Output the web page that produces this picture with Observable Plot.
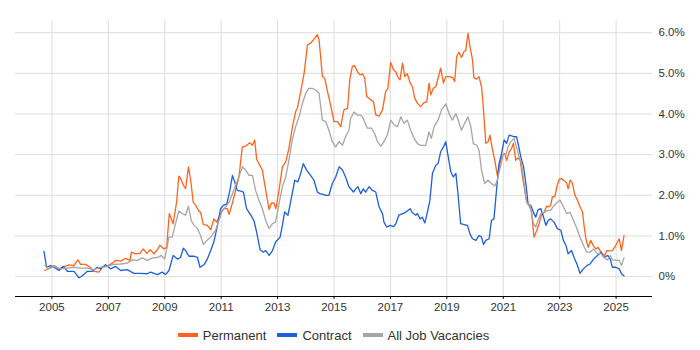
<!DOCTYPE html>
<html><head><meta charset="utf-8">
<script src="https://cdn.jsdelivr.net/npm/d3@7"></script>
<script src="https://cdn.jsdelivr.net/npm/@observablehq/plot@0.6"></script>
<style>
body{margin:0;background:#fff;font-family:"Liberation Sans",Arial,sans-serif;}
#legend{display:flex;justify-content:center;align-items:center;width:637px;margin-left:15px;height:30px;font-size:13px;color:#333}
.item{display:flex;align-items:center;margin:0 5.5px}
.sw{width:20px;height:4px;margin-right:5px}
</style></head><body><div id="chart"></div><div id="legend"></div>
<script>
const seriesNames = ["Permanent", "Contract", "All Job Vacancies"];
const seriesColors = ["#ff631c", "#1d5fd9", "#a6a6a6"];
const xTicks = [2005, 2007, 2009, 2011, 2013, 2015, 2017, 2019, 2021, 2023, 2025];
const yTicks = [0, 1, 2, 3, 4, 5, 6];

const permYear = [2004.75,2005.07,2005.25,2005.60,2005.78,2005.92,2006.02,2006.20,2006.35,2006.49,2006.67,2006.79,2006.96,2007.14,2007.26,2007.44,2007.61,2007.77,2007.82,2007.97,2008.12,2008.24,2008.36,2008.48,2008.62,2008.74,2008.83,2008.97,2009.07,2009.16,2009.30,2009.42,2009.50,2009.56,2009.66,2009.74,2009.84,2009.92,2010.01,2010.10,2010.21,2010.27,2010.37,2010.51,2010.63,2010.74,2010.84,2010.98,2011.10,2011.22,2011.28,2011.40,2011.51,2011.63,2011.75,2011.87,2012.02,2012.11,2012.19,2012.26,2012.46,2012.58,2012.70,2012.78,2012.87,2012.94,2013.05,2013.17,2013.29,2013.40,2013.52,2013.64,2013.70,2013.82,2013.94,2014.06,2014.17,2014.29,2014.41,2014.47,2014.59,2014.67,2014.77,2014.88,2015.00,2015.12,2015.24,2015.35,2015.48,2015.56,2015.65,2015.73,2015.83,2015.92,2016.01,2016.09,2016.16,2016.28,2016.40,2016.48,2016.60,2016.72,2016.83,2016.91,2017.01,2017.11,2017.19,2017.27,2017.34,2017.43,2017.51,2017.60,2017.70,2017.78,2017.86,2017.96,2018.07,2018.19,2018.29,2018.37,2018.43,2018.52,2018.61,2018.69,2018.78,2018.88,2018.96,2019.08,2019.20,2019.28,2019.35,2019.43,2019.52,2019.61,2019.67,2019.75,2019.82,2019.91,2019.96,2020.06,2020.14,2020.23,2020.30,2020.38,2020.46,2020.53,2020.62,2020.70,2020.79,2020.89,2020.97,2021.05,2021.12,2021.21,2021.29,2021.36,2021.44,2021.52,2021.60,2021.68,2021.74,2021.83,2021.91,2022.00,2022.09,2022.19,2022.27,2022.35,2022.45,2022.54,2022.62,2022.68,2022.74,2022.83,2022.90,2022.98,2023.06,2023.16,2023.25,2023.30,2023.37,2023.45,2023.54,2023.63,2023.72,2023.81,2023.87,2023.93,2024.01,2024.10,2024.20,2024.28,2024.36,2024.43,2024.52,2024.60,2024.67,2024.75,2024.87,2024.99,2025.11,2025.19,2025.28];
const permValue = [0.15,0.27,0.19,0.29,0.27,0.41,0.30,0.30,0.23,0.13,0.11,0.23,0.25,0.33,0.40,0.38,0.45,0.40,0.60,0.56,0.57,0.68,0.57,0.66,0.56,0.66,0.77,0.68,0.72,1.55,1.30,1.83,2.47,2.42,2.25,2.16,2.70,2.37,1.83,1.75,1.61,1.58,1.28,1.26,1.15,1.42,1.34,1.55,1.67,1.67,1.53,1.81,2.12,2.45,3.19,3.21,3.29,3.23,3.36,2.88,2.62,2.12,1.65,1.81,1.81,1.67,2.12,2.70,2.82,3.15,3.65,4.06,4.14,4.55,5.00,5.70,5.74,5.84,5.95,5.83,4.92,4.88,4.55,4.22,3.81,3.81,3.69,4.10,4.14,4.84,5.17,5.19,5.04,4.96,4.99,4.88,4.43,4.36,4.30,3.98,3.95,4.10,4.55,4.63,5.27,5.09,5.04,4.90,4.84,5.25,4.92,4.99,4.76,4.67,4.39,4.26,4.18,4.28,4.30,4.76,4.47,4.63,4.67,4.88,5.13,4.76,4.92,4.92,4.90,4.80,5.42,5.52,5.39,5.54,5.56,5.99,5.66,5.33,4.88,4.86,4.92,4.67,4.10,3.28,3.31,3.48,3.11,2.86,2.49,2.78,2.99,3.03,2.86,3.07,3.15,3.28,2.86,2.92,2.86,2.45,2.21,1.83,1.75,1.61,0.97,1.14,1.30,1.51,1.58,1.73,1.72,1.75,1.96,1.97,2.21,2.39,2.41,2.36,2.30,2.16,2.37,2.30,2.00,1.88,1.72,1.59,1.22,0.93,0.72,0.89,0.75,0.68,0.72,0.64,0.56,0.52,0.64,0.63,0.64,0.77,0.93,0.64,1.01];

const contYear = [2004.72,2004.81,2004.95,2005.07,2005.25,2005.40,2005.55,2005.78,2005.96,2006.08,2006.26,2006.43,2006.61,2006.73,2006.90,2007.08,2007.26,2007.44,2007.67,2007.91,2008.15,2008.38,2008.50,2008.74,2008.91,2009.03,2009.15,2009.30,2009.45,2009.56,2009.66,2009.74,2009.86,2010.04,2010.16,2010.25,2010.39,2010.51,2010.63,2010.74,2010.87,2010.98,2011.08,2011.20,2011.31,2011.40,2011.48,2011.57,2011.69,2011.79,2011.90,2012.05,2012.16,2012.26,2012.38,2012.50,2012.58,2012.70,2012.82,2012.93,2013.09,2013.17,2013.25,2013.37,2013.46,2013.61,2013.72,2013.82,2013.91,2014.03,2014.17,2014.29,2014.41,2014.50,2014.62,2014.71,2014.82,2014.94,2015.06,2015.18,2015.30,2015.41,2015.53,2015.59,2015.69,2015.77,2015.85,2015.95,2016.04,2016.12,2016.24,2016.36,2016.48,2016.60,2016.72,2016.77,2016.87,2016.99,2017.11,2017.19,2017.30,2017.43,2017.54,2017.70,2017.78,2017.90,2017.96,2018.05,2018.13,2018.22,2018.31,2018.40,2018.49,2018.61,2018.69,2018.78,2018.88,2018.96,2019.04,2019.14,2019.23,2019.32,2019.40,2019.49,2019.61,2019.73,2019.82,2019.91,2020.03,2020.14,2020.23,2020.30,2020.38,2020.50,2020.58,2020.67,2020.76,2020.85,2020.94,2021.03,2021.12,2021.21,2021.30,2021.38,2021.47,2021.54,2021.62,2021.72,2021.80,2021.88,2021.98,2022.07,2022.15,2022.23,2022.33,2022.43,2022.51,2022.59,2022.68,2022.80,2022.92,2023.04,2023.13,2023.22,2023.30,2023.42,2023.51,2023.61,2023.72,2023.84,2023.96,2024.08,2024.20,2024.34,2024.46,2024.57,2024.70,2024.79,2024.87,2024.99,2025.11,2025.19,2025.28];
const contValue = [0.62,0.23,0.27,0.23,0.15,0.25,0.13,0.13,-0.03,0.02,0.13,0.13,0.23,0.19,0.29,0.19,0.25,0.15,0.17,0.08,0.08,0.07,0.11,0.05,0.11,0.05,0.15,0.52,0.43,0.47,0.70,0.64,0.50,0.50,0.47,0.23,0.29,0.43,0.64,0.85,1.26,1.67,1.75,1.79,2.12,2.49,2.33,2.12,2.10,2.08,1.67,1.51,1.38,1.09,0.66,0.60,0.64,0.52,0.64,0.85,0.97,1.26,1.59,1.51,1.83,2.37,2.33,2.54,2.78,2.62,2.49,2.37,2.08,2.04,2.02,2.00,2.00,2.29,2.45,2.70,2.62,2.45,2.21,2.16,2.08,2.16,2.21,2.04,2.16,2.08,2.21,2.12,2.08,1.71,1.55,1.34,1.22,1.26,1.23,1.30,1.51,1.55,1.58,1.67,1.57,1.51,1.55,1.42,1.46,1.32,1.58,1.88,2.54,2.74,2.78,3.07,3.19,3.32,2.99,2.58,2.45,2.54,2.00,1.30,1.28,1.26,1.05,0.93,0.89,1.01,0.97,0.79,0.89,0.93,1.38,1.42,2.12,2.78,3.03,3.36,3.28,3.48,3.46,3.44,3.44,3.23,2.95,2.70,2.29,1.79,1.75,1.58,1.46,1.64,1.67,1.46,1.26,1.38,1.42,1.34,1.18,1.14,0.89,0.77,0.56,0.64,0.47,0.31,0.08,0.19,0.27,0.31,0.43,0.52,0.60,0.47,0.52,0.43,0.23,0.23,0.19,0.07,0.02];

const allYear = [2004.75,2004.89,2005.07,2005.31,2005.55,2005.78,2006.02,2006.26,2006.49,2006.73,2006.96,2007.20,2007.44,2007.67,2007.85,2008.03,2008.21,2008.38,2008.56,2008.74,2008.88,2009.00,2009.15,2009.27,2009.35,2009.50,2009.62,2009.74,2009.84,2009.94,2010.04,2010.16,2010.27,2010.37,2010.49,2010.63,2010.80,2010.92,2011.04,2011.16,2011.28,2011.40,2011.51,2011.63,2011.75,2011.87,2011.99,2012.11,2012.22,2012.34,2012.46,2012.58,2012.70,2012.82,2012.93,2013.05,2013.17,2013.29,2013.40,2013.52,2013.64,2013.76,2013.88,2014.00,2014.11,2014.23,2014.35,2014.47,2014.59,2014.71,2014.82,2014.94,2015.06,2015.18,2015.30,2015.41,2015.53,2015.59,2015.71,2015.83,2015.95,2016.04,2016.18,2016.33,2016.44,2016.54,2016.66,2016.77,2016.89,2017.01,2017.13,2017.25,2017.37,2017.48,2017.60,2017.72,2017.84,2017.96,2018.07,2018.25,2018.37,2018.45,2018.55,2018.69,2018.81,2018.96,2019.08,2019.20,2019.32,2019.40,2019.52,2019.63,2019.75,2019.85,2019.94,2020.06,2020.14,2020.23,2020.34,2020.46,2020.58,2020.70,2020.79,2020.91,2021.01,2021.09,2021.17,2021.27,2021.38,2021.47,2021.56,2021.65,2021.74,2021.83,2021.95,2022.07,2022.15,2022.23,2022.33,2022.45,2022.57,2022.68,2022.80,2022.92,2023.01,2023.13,2023.25,2023.37,2023.49,2023.61,2023.72,2023.84,2023.96,2024.08,2024.20,2024.34,2024.46,2024.57,2024.70,2024.79,2024.87,2024.99,2025.11,2025.19,2025.28];
const allValue = [0.27,0.19,0.25,0.19,0.21,0.23,0.21,0.21,0.17,0.23,0.25,0.30,0.31,0.33,0.41,0.40,0.46,0.40,0.46,0.47,0.52,0.43,0.97,0.97,1.22,1.61,1.55,1.51,1.73,1.38,1.26,1.18,1.01,0.79,0.89,0.97,1.14,1.38,1.63,1.71,1.83,2.04,2.25,2.45,2.70,2.62,2.49,2.49,2.12,1.88,1.67,1.38,1.18,1.30,1.34,1.79,2.21,2.45,2.86,3.36,3.69,3.93,4.26,4.51,4.63,4.63,4.59,4.51,3.85,3.81,3.60,3.32,3.19,3.32,3.23,3.44,3.60,3.89,4.05,3.97,3.97,3.89,3.65,3.65,3.52,3.32,3.21,3.32,3.48,3.85,3.73,3.69,3.93,3.77,3.85,3.60,3.40,3.27,3.23,3.23,3.56,3.40,3.69,3.85,4.10,4.25,4.01,3.85,4.01,3.85,3.60,3.77,3.93,3.69,3.27,3.23,3.11,2.62,2.29,2.37,2.29,2.23,2.37,2.74,3.03,2.99,3.19,3.32,3.40,3.19,2.95,2.78,2.29,1.83,1.75,1.30,1.22,1.38,1.55,1.58,1.63,1.63,1.75,1.83,1.88,1.72,1.55,1.58,1.38,1.18,0.97,0.77,0.60,0.60,0.68,0.56,0.57,0.47,0.41,0.52,0.41,0.40,0.40,0.27,0.46];

const rows = [];
[[permYear, permValue], [contYear, contValue], [allYear, allValue]].forEach(([ys, vs], i) => {
  ys.forEach((y, j) => rows.push({series: seriesNames[i], year: y, value: vs[j]}));
});

const yMin = -0.49;
const chart = Plot.plot({
  width: 700, height: 320,
  marginLeft: 15, marginRight: 48, marginTop: 20, marginBottom: 24,
  x: {domain: [2003.71, 2026.29], label: null},
  y: {domain: [yMin, 6.3], label: null},
  color: {domain: seriesNames, range: seriesColors},
  style: {fontFamily: '"Liberation Sans", Arial, sans-serif', fontSize: "11.5px", color: "#333", background: "white"},
  marks: [
    Plot.gridX(xTicks, {stroke: "#dddddd", strokeOpacity: 1}),
    Plot.gridY(yTicks, {stroke: "#dddddd", strokeOpacity: 1}),
    Plot.line(rows, {x: "year", y: "value", stroke: "series", z: "series", strokeWidth: 1.3}),
    Plot.ruleY([yMin], {stroke: "#000", strokeWidth: 1}),
    Plot.axisX(xTicks, {tickSize: 3, tickPadding: 3, tickFormat: d => String(d), stroke: "#000", label: null}),
    Plot.axisY(yTicks, {anchor: "right", tickSize: 0, tickPadding: 6, tickFormat: d => d === 0 ? "0%" : d.toFixed(1) + "%", label: null})
  ]
});
document.getElementById("chart").appendChild(chart);

const legend = document.getElementById("legend");
seriesNames.forEach((name, i) => {
  const item = document.createElement("div");
  item.className = "item";
  const sw = document.createElement("span");
  sw.className = "sw";
  sw.style.background = seriesColors[i];
  const label = document.createElement("span");
  label.textContent = name;
  item.appendChild(sw);
  item.appendChild(label);
  legend.appendChild(item);
});
</script></body></html>
